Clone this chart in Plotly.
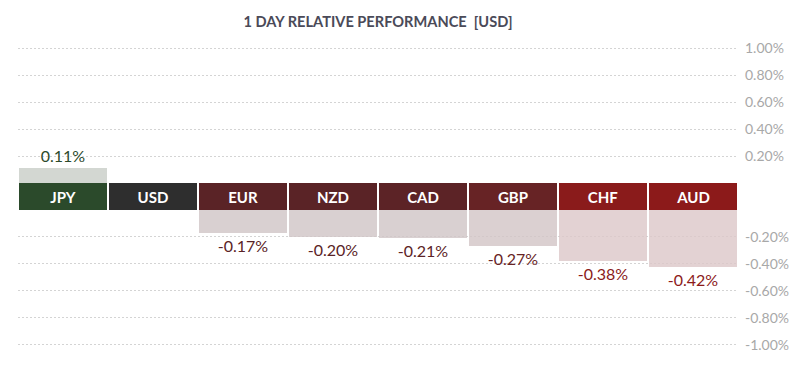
import plotly.graph_objects as go

currencies = ["JPY", "USD", "EUR", "NZD", "CAD", "GBP", "CHF", "AUD"]
values = [0.11, 0.0, -0.17, -0.20, -0.21, -0.27, -0.38, -0.42]
label_colors = ["#2b4a2b", "#2e2e2e", "#5a2326", "#5a2326", "#5c2326", "#672325", "#8a1b1b", "#8c1a1a"]
bar_colors = ["rgba(200,205,199,0.8)", "rgba(0,0,0,0)", "rgba(207,196,198,0.8)", "rgba(207,196,198,0.8)",
              "rgba(207,196,198,0.8)", "rgba(210,196,198,0.8)", "rgba(220,199,200,0.8)", "rgba(220,199,200,0.8)"]
tick_values = [1.0, 0.8, 0.6, 0.4, 0.2, -0.2, -0.4, -0.6, -0.8, -1.0]
tick_labels = ["1.00%", "0.80%", "0.60%", "0.40%", "0.20%", "-0.20%", "-0.40%", "-0.60%", "-0.80%", "-1.00%"]

BAND = 0.2  # height of the currency label band (in axis units)

def shift(v):
    return v if v >= 0 else v - BAND

bases = [0 if v >= 0 else -BAND for v in values]
texts = ["" if v == 0 else f"{v:.2f}%" for v in values]

fig = go.Figure()
# value bars
fig.add_trace(go.Bar(
    x=currencies, y=values, base=bases, width=0.967,
    marker=dict(color=bar_colors, line=dict(width=0)),
    text=texts, textposition="outside",
    textfont=dict(family="Lato", size=16, color=label_colors),
    cliponaxis=False, hoverinfo="skip", showlegend=False,
))
# label band
fig.add_trace(go.Bar(
    x=currencies, y=[BAND] * len(currencies), base=[-BAND] * len(currencies), width=0.967,
    marker=dict(color=label_colors, line=dict(width=0)),
    text=[f"<b>{c}</b>" for c in currencies], textposition="inside", insidetextanchor="middle",
    textfont=dict(family="Lato", size=15, color="white"),
    hoverinfo="skip", showlegend=False,
))

fig.update_layout(
    width=800, height=380,
    margin=dict(l=10, r=70, t=39, b=42, autoexpand=False),
    paper_bgcolor="white", plot_bgcolor="white",
    barmode="overlay", bargap=0,
    uniformtext=dict(mode=False),
    title=dict(text="<b>1 DAY RELATIVE PERFORMANCE\u00a0 [USD]</b>", x=0.4625, xanchor="center",
               y=0.963, yanchor="middle", font=dict(family="Lato", size=14.6, color="#4a4a58")),
    font=dict(family="Lato"),
    xaxis=dict(showticklabels=False, showgrid=False, zeroline=False, showline=False,
               range=[-0.5, len(currencies) - 0.5]),
    yaxis=dict(side="right", range=[-1.21, 1.01], zeroline=False, showline=False,
               tickmode="array", tickvals=[shift(v) for v in tick_values], ticktext=tick_labels,
               showgrid=True, gridcolor="#d4d4d4", griddash="2px,2px", gridwidth=1,
               tickfont=dict(family="Lato", size=14, color="#a8a8a8"), ticks="", ticklabelstandoff=6),
)

fig.write_html("out.html")
